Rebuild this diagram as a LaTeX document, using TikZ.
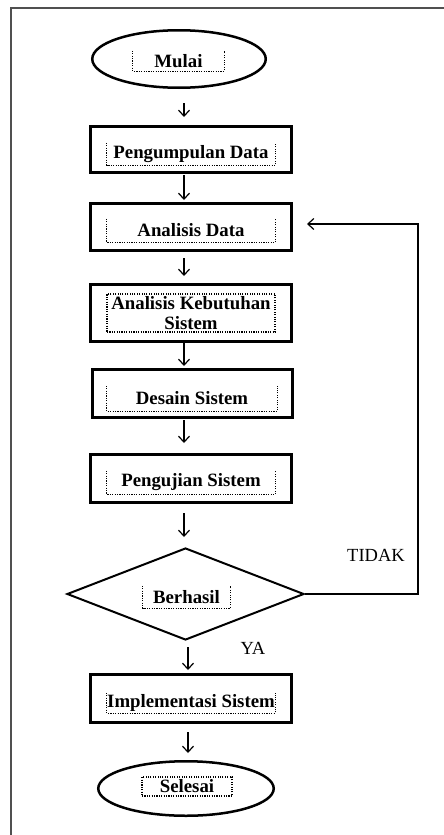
\documentclass[tikz,border=0pt]{standalone}
\usepackage{fontspec}
\setmainfont{Liberation Serif}
\usetikzlibrary{arrows.meta,shapes.geometric}
\definecolor{bingkai}{HTML}{505050}
\tikzstyle{proses}=[rectangle, draw, line width=3pt, inner sep=0pt]
\tikzstyle{terminal}=[ellipse, draw, line width=2.5pt, inner sep=0pt]
\tikzstyle{keputusan}=[diamond, draw, line width=2pt, inner sep=0pt, shape aspect=2.5]
\tikzstyle{teks}=[inner sep=0pt, align=center, font=\fontsize{18.8}{19.5}\selectfont\bfseries]
\tikzstyle{titik}=[line width=1.1pt, dash pattern=on 1.1pt off 1.3pt]
\tikzstyle{tbox}=[teks, draw, titik]
\tikzstyle{ket}=[inner sep=0pt, font=\fontsize{18.5}{20}\selectfont]
\tikzstyle{panah}=[line width=1.2pt, -{Straight Barb[length=6pt,width=11pt]}]
\newcommand{\teks}{\node[teks]}
\newcommand{\opentop}[1]{\draw[titik] (#1.north west) |- (#1.south east) -- (#1.north east);}

\begin{document}
\begin{tikzpicture}[x=1pt, y=-1pt]
\useasboundingbox (0,0) rectangle (444,835);
\draw[bingkai, line width=1.3pt] (444,8) -| (11,835);

% bentuk
\node[terminal, minimum width=173.5pt, minimum height=57.5pt] (mulai) at (179,59) {};
\node[proses, minimum width=201pt, minimum height=46pt] (kumpul) at (191,149.5) {};
\node[proses, minimum width=201pt, minimum height=47pt] (analisis) at (191,227) {};
\node[proses, minimum width=201pt, minimum height=57pt] (kebutuhan) at (191,313) {};
\node[proses, minimum width=200pt, minimum height=48pt] (desain) at (192.5,393.5) {};
\node[proses, minimum width=201pt, minimum height=48pt] (uji) at (191,478.5) {};
\node[keputusan, minimum width=237pt, minimum height=92pt] (cek) at (185.5,594) {};
\node[proses, minimum width=201pt, minimum height=48pt] (impl) at (191,698.5) {};
\node[terminal, minimum width=175.5pt, minimum height=54.5pt] (selesai) at (186,788.5) {};

% teks
\teks[minimum width=91pt, minimum height=20pt] (tmulai) at (178.5,61) {Mulai};
\teks[minimum width=168pt, minimum height=22pt] (tkumpul) at (191,154) {Pengumpulan Data};
\teks[minimum width=168pt, minimum height=23pt] (tanalisis) at (191,230.5) {Analisis Data};
\node[tbox, minimum width=168pt, minimum height=38pt] (tkebutuhan) at (191,313) {Analisis Kebutuhan\\Sistem};
\teks[minimum width=170pt, minimum height=25pt] (tdesain) at (192,398.5) {Desain Sistem};
\teks[minimum width=168pt, minimum height=23pt] (tuji) at (191,482.5) {Pengujian Sistem};
\teks[minimum width=87pt, minimum height=22pt] (tcek) at (186.5,597) {Berhasil};
\teks[minimum width=168pt, minimum height=20pt] (timpl) at (191,703) {Implementasi Sistem};
\node[tbox, minimum width=90pt, minimum height=19pt] (tselesai) at (187,786.5) {Selesai};
\opentop{tmulai}
\opentop{tkumpul}
\opentop{tanalisis}
\opentop{tdesain}
\opentop{tuji}
\opentop{tcek}
\opentop{timpl}

\node[ket] (tidak) at (376,555) {TIDAK};
\node[ket] (ya) at (253,648) {YA};

% panah
\coordinate (sumbu) at (184,0);
\coordinate (sumbub) at (188,0);
\coordinate (balik) at (418,0);
\draw[panah, shorten <=14pt, shorten >=8pt] (sumbu |- mulai.south) -- (sumbu |- kumpul.north);
\draw[panah, shorten <=1pt, shorten >=2pt] (sumbu |- kumpul.south) -- (sumbu |- analisis.north);
\draw[panah, shorten <=6pt, shorten >=7pt] (sumbu |- analisis.south) -- (sumbu |- kebutuhan.north);
\draw[panah, shorten <=0pt, shorten >=2pt] (sumbu |- kebutuhan.south) -- (sumbu |- desain.north);
\draw[panah, shorten <=1pt, shorten >=10pt] (sumbu |- desain.south) -- (sumbu |- uji.north);
\draw[panah, shorten <=9pt, shorten >=10pt] (sumbu |- uji.south) -- (sumbu |- cek.north);
\draw[panah, shorten <=6pt, shorten >=3pt] (sumbub |- cek.south) -- (sumbub |- impl.north);
\draw[panah, shorten <=8pt, shorten >=7pt] (sumbub |- impl.south) -- (sumbub |- selesai.north);
\draw[panah] (cek.east) -- (balik |- cek.east) |- ([xshift=14pt, yshift=3pt]analisis.east);
\end{tikzpicture}
\end{document}
